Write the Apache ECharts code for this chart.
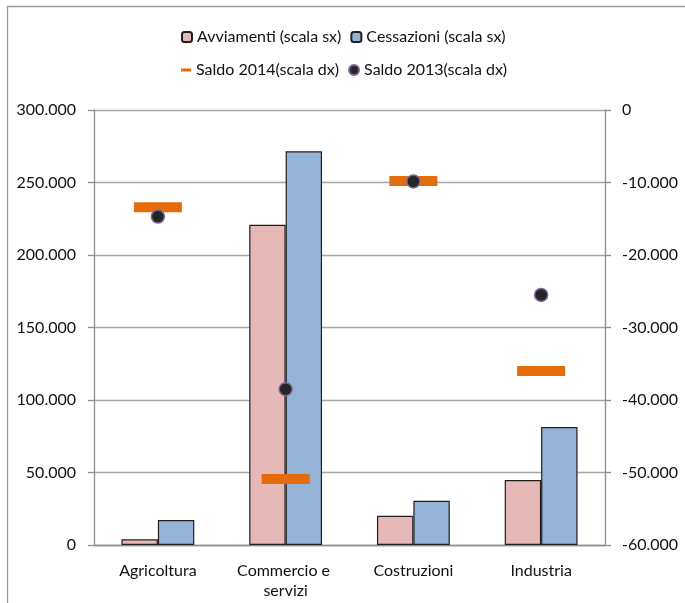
<!DOCTYPE html>
<html>
<head>
<meta charset="utf-8">
<script src="https://cdn.jsdelivr.net/npm/echarts@6/dist/echarts.min.js"></script>
<style>
  html, body { margin: 0; padding: 0; background: #fff; }
  #chart { width: 685px; height: 603px; }
</style>
</head>
<body>
<div id="chart"></div>
<script>
// Settori economici
var categories = ['Agricoltura', 'Commercio e servizi', 'Costruzioni', 'Industria'];

// Scala sinistra
var avviamenti = [3900, 220900, 20200, 44800];
var cessazioni = [17200, 271500, 30500, 81400];

// Scala destra
var saldo2014 = [-13400, -50900, -9800, -36000];
var saldo2013 = [-14700, -38500, -9850, -25500];

// Etichette degli assi
var leftTicks = [0, 50000, 100000, 150000, 200000, 250000, 300000];
var rightTicks = [-60000, -50000, -40000, -30000, -20000, -10000, 0];

var FONT = 'Lato';
var FS = 16;
var TEXT = '#111111';
var AXIS = '#8c8c8c';

function fmtThousands(v) {
  var neg = v < 0;
  var s = String(Math.abs(Math.round(v)));
  s = s.replace(/\B(?=(\d{3})+(?!\d))/g, '.');
  return (neg ? '-' : '') + s;
}

var chart = echarts.init(document.getElementById('chart'), null, { renderer: 'canvas' });

var dashIcon = 'path://M0,0h0.01v0.01h-0.01z M0,3.5h10v3h-10z M9.99,9.99h0.01v0.01h-0.01z';

chart.setOption({
  backgroundColor: '#ffffff',
  animation: false,
  textStyle: { fontFamily: FONT, color: TEXT },
  graphic: [{
    type: 'rect',
    shape: { x: 7.5, y: 6.5, width: 720, height: 640 },
    style: { fill: 'none', stroke: '#9a9a9a', lineWidth: 1.3 },
    silent: true
  }],
  legend: [{
    left: 176, top: 24,
    itemWidth: 10, itemHeight: 10, itemGap: 9,
    textStyle: { fontFamily: FONT, fontSize: FS, color: TEXT },
    data: ['Avviamenti (scala sx)', 'Cessazioni (scala sx)']
  }, {
    left: 176, top: 57,
    itemWidth: 10, itemHeight: 10, itemGap: 9,
    textStyle: { fontFamily: FONT, fontSize: FS, color: TEXT },
    data: [
      { name: 'Saldo 2014(scala dx)', icon: dashIcon },
      { name: 'Saldo 2013(scala dx)', icon: 'circle' }
    ]
  }],
  grid: { left: 94, right: 80, top: 110, bottom: 58, containLabel: false },
  xAxis: {
    type: 'category',
    data: categories,
    boundaryGap: true,
    axisLine: { lineStyle: { color: AXIS, width: 1.3 } },
    axisTick: { show: false },
    axisLabel: {
      fontFamily: FONT, fontSize: FS, color: TEXT, margin: 16,
      lineHeight: 20, width: 115, overflow: 'break', interval: 0
    },
    splitLine: { show: false }
  },
  yAxis: [{
    type: 'value',
    min: leftTicks[0], max: leftTicks[leftTicks.length - 1], interval: 50000,
    position: 'left',
    axisLine: { show: true, lineStyle: { color: AXIS, width: 1.3 } },
    axisTick: { show: true, inside: false, length: 6, lineStyle: { color: AXIS, width: 1.3 } },
    axisLabel: { fontFamily: FONT, fontSize: FS, color: TEXT, margin: 18, formatter: fmtThousands },
    splitLine: { show: true, lineStyle: { color: '#a6a6a6', width: 1.3 } }
  }, {
    type: 'value',
    min: rightTicks[0], max: rightTicks[rightTicks.length - 1], interval: 10000,
    position: 'right',
    axisLine: { show: true, lineStyle: { color: AXIS, width: 1.3 } },
    axisTick: { show: true, inside: false, length: 6, lineStyle: { color: AXIS, width: 1.3 } },
    axisLabel: { fontFamily: FONT, fontSize: FS, color: TEXT, margin: 17, formatter: fmtThousands },
    splitLine: { show: false }
  }],
  series: [{
    name: 'Avviamenti (scala sx)',
    type: 'bar',
    yAxisIndex: 0,
    data: avviamenti,
    barGap: '0%',
    barCategoryGap: '43%',
    itemStyle: { color: '#E6B9B8', borderColor: '#1f1f1f', borderWidth: 1.2 }
  }, {
    name: 'Cessazioni (scala sx)',
    type: 'bar',
    yAxisIndex: 0,
    data: cessazioni,
    itemStyle: { color: '#95B3D7', borderColor: '#1f1f1f', borderWidth: 1.2 }
  }, {
    name: 'Saldo 2014(scala dx)',
    type: 'scatter',
    yAxisIndex: 1,
    data: saldo2014,
    symbol: 'rect',
    symbolSize: [48, 10],
    itemStyle: { color: '#E46C0A', opacity: 1 },
    z: 3
  }, {
    name: 'Saldo 2013(scala dx)',
    type: 'scatter',
    yAxisIndex: 1,
    data: saldo2013,
    symbol: 'circle',
    symbolSize: 13,
    itemStyle: { color: '#262626', borderColor: '#8064A2', borderWidth: 1.5, opacity: 1 },
    z: 4
  }]
});
</script>
</body>
</html>
